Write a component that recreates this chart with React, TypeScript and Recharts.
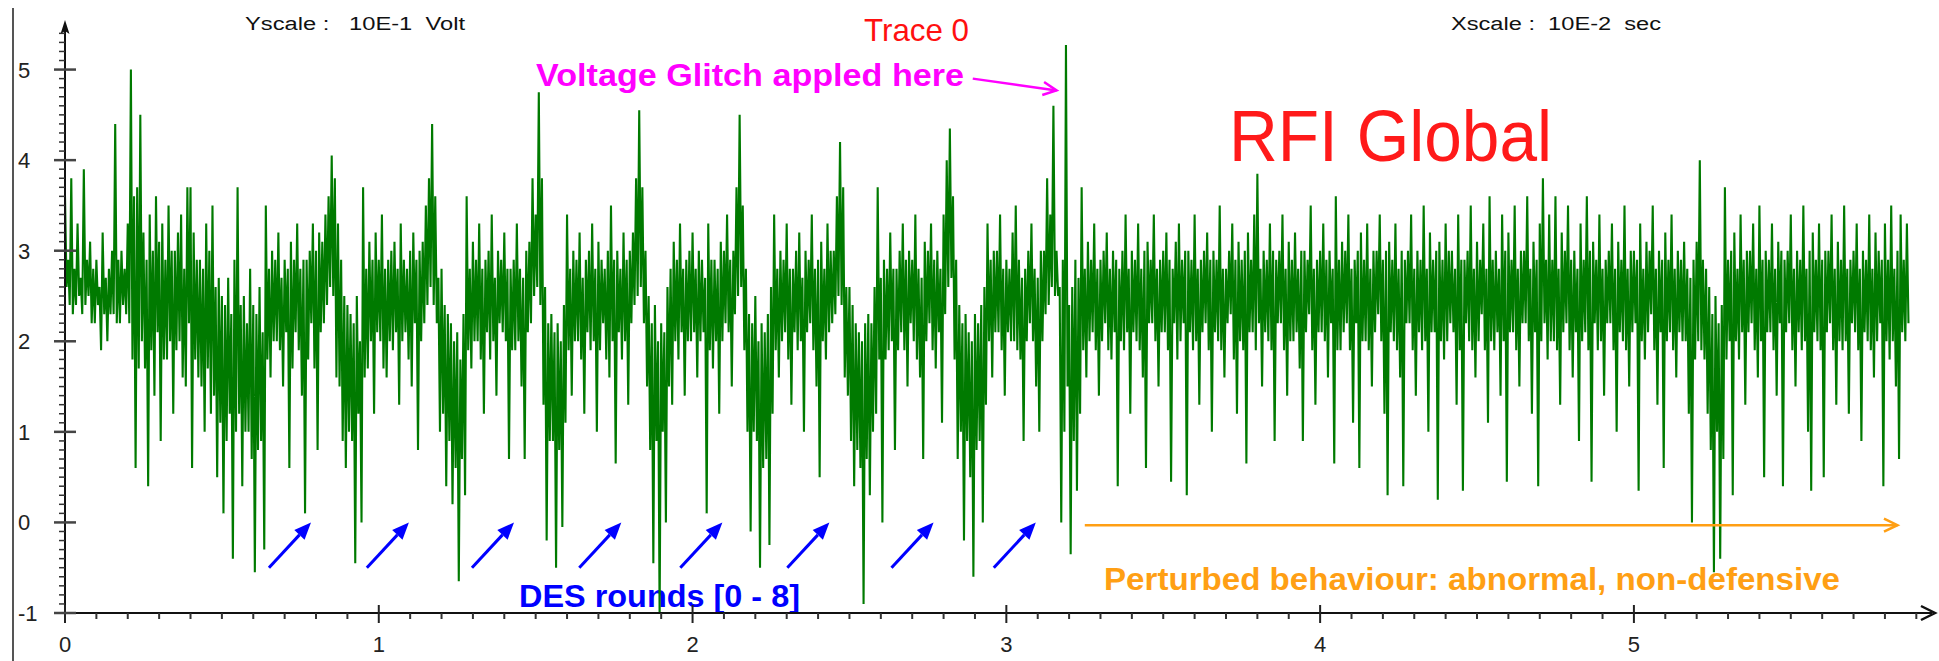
import React from 'react';
import { LineChart, Line, XAxis, YAxis, ReferenceLine } from 'recharts';

const W = 1939;
const H = 661;

// peak-detect trace: for every 0.01 step (Xscale 10E-2 sec) the high and the low
// reading, in 10E-1 Volt
const SAMPLE_STEP = 0.01;
const peakHigh = [
  3.6, 2.9, 3.8, 2.8, 3.3, 2.7, 3.9, 2.9, 3.1, 2.8, 2.9, 2.6, 3.2, 2.7, 2.8, 3.0, 4.4, 2.9, 3.0, 2.8,
  3.3, 5.0, 3.6, 3.7, 4.5, 3.2, 2.9, 3.4, 3.0, 3.6, 3.1, 3.3, 2.9, 3.5, 3.0, 3.0, 3.2, 3.4, 2.8, 3.7,
  3.7, 3.2, 2.9, 2.9, 2.8, 3.3, 3.0, 3.5, 2.6, 2.7, 2.5, 2.4, 2.7, 2.3, 2.9, 3.7, 2.4, 2.5, 2.2, 2.8,
  2.4, 2.3, 2.6, 2.1, 3.5, 2.8, 3.0, 2.9, 3.2, 2.7, 2.9, 2.8, 3.1, 2.9, 3.3, 2.8, 2.9, 2.9, 3.0, 3.3,
  3.0, 3.2, 3.1, 3.4, 3.6, 4.05, 3.8, 3.3, 2.9, 2.5, 2.4, 2.3, 2.2, 2.5, 2.0, 3.7, 2.8, 3.1, 2.9, 3.2,
  2.9, 3.4, 2.8, 2.9, 3.0, 3.1, 2.8, 3.3, 2.9, 2.8, 3.0, 3.2, 2.9, 3.0, 3.1, 3.5, 3.8, 4.4, 3.6, 2.7,
  2.8, 2.4, 2.3, 2.2, 2.0, 2.1, 1.8, 2.3, 3.6, 2.8, 3.1, 2.9, 3.3, 2.8, 2.9, 3.0, 3.4, 2.7, 3.0, 2.9,
  3.2, 2.8, 2.8, 2.9, 3.3, 2.8, 2.7, 3.0, 3.1, 3.8, 3.4, 4.75, 3.8, 2.6, 2.2, 2.3, 2.1, 2.2, 2.0, 2.4,
  3.4, 2.8, 3.0, 2.9, 3.2, 2.7, 2.9, 3.0, 3.3, 2.8, 3.1, 2.9, 2.8, 3.0, 3.5, 2.9, 3.0, 2.8, 3.2, 2.9,
  3.0, 3.2, 3.8, 4.55, 3.7, 3.0, 2.5, 2.2, 2.4, 2.0, 2.2, 2.1, 2.6, 2.8, 3.1, 2.9, 3.3, 2.8, 2.9, 3.0,
  3.2, 2.8, 3.0, 2.9, 2.7, 3.3, 2.9, 2.9, 2.8, 3.1, 3.0, 3.4, 2.9, 3.0, 3.7, 4.5, 3.5, 2.8, 2.3, 2.2,
  2.5, 2.0, 2.2, 2.1, 2.3, 2.6, 3.4, 2.8, 3.0, 2.9, 3.3, 2.8, 2.8, 3.0, 3.2, 2.7, 3.0, 2.9, 3.4, 2.8,
  2.9, 3.1, 2.8, 3.3, 3.0, 3.0, 3.6, 4.2, 3.7, 2.6, 2.6, 2.4, 2.2, 2.1, 2.0, 2.2, 2.3, 2.2, 2.6, 3.7,
  2.7, 2.9, 2.8, 3.2, 2.8, 2.8, 3.0, 3.3, 2.9, 3.0, 2.9, 3.4, 2.8, 2.7, 3.1, 3.0, 3.3, 2.9, 3.0, 2.8,
  3.4, 4.0, 4.35, 3.6, 2.9, 2.4, 2.2, 2.3, 2.1, 2.0, 2.3, 2.2, 2.4, 2.6, 3.3, 2.9, 3.0, 3.0, 3.4, 2.8,
  2.9, 2.8, 3.2, 3.5, 2.9, 2.7, 2.8, 3.0, 3.3, 2.8, 2.7, 3.0, 3.0, 3.8, 3.4, 4.6, 3.0, 2.6, 2.9, 5.27,
  2.4, 2.6, 2.9, 2.7, 3.7, 2.8, 3.1, 2.9, 3.3, 2.8, 2.9, 3.0, 3.2, 2.8, 3.0, 2.9, 2.8, 3.0, 3.4, 2.8,
  3.0, 2.9, 3.3, 2.8, 3.0, 3.1, 2.9, 3.4, 2.8, 2.9, 3.0, 3.2, 2.9, 2.8, 3.1, 3.3, 2.9, 3.0, 3.0, 2.9,
  3.4, 2.8, 2.9, 3.0, 3.2, 2.9, 3.0, 2.9, 3.5, 2.8, 2.8, 3.0, 3.3, 2.9, 3.1, 2.9, 3.0, 3.2, 2.9, 3.4,
  3.85, 2.8, 3.0, 2.9, 3.3, 3.0, 2.9, 3.0, 3.4, 2.8, 3.1, 2.9, 3.2, 2.8, 3.0, 3.0, 2.9, 3.5, 2.8, 2.9,
  3.0, 3.3, 2.9, 3.0, 2.8, 3.6, 2.9, 3.1, 3.0, 3.4, 2.8, 2.9, 3.0, 3.2, 2.9, 3.3, 2.8, 3.0, 3.0, 3.4,
  2.9, 3.0, 3.1, 2.9, 3.3, 2.8, 3.0, 2.9, 3.0, 3.4, 2.8, 3.0, 2.9, 3.5, 2.8, 3.2, 2.9, 3.0, 3.1, 2.9,
  3.3, 3.0, 3.0, 2.8, 3.4, 2.9, 2.9, 3.0, 3.5, 2.8, 3.1, 2.9, 3.3, 2.8, 3.6, 2.9, 3.0, 2.8, 3.4, 3.0,
  3.2, 2.9, 3.5, 2.8, 3.0, 3.0, 3.6, 2.8, 3.1, 2.9, 3.3, 3.8, 2.9, 3.4, 2.9, 3.6, 2.8, 3.2, 3.0, 3.5,
  2.9, 3.0, 2.8, 3.3, 2.9, 3.6, 3.0, 3.1, 2.9, 3.4, 2.8, 2.9, 3.0, 3.3, 2.8, 3.1, 2.9, 3.5, 2.8, 3.0,
  3.0, 2.9, 3.3, 2.8, 3.1, 3.0, 3.5, 2.8, 3.0, 2.9, 3.2, 2.9, 3.4, 2.8, 3.0, 2.9, 3.1, 2.8, 2.7, 2.9,
  3.1, 4.0, 2.9, 2.8, 2.6, 2.3, 2.5, 2.2, 2.4, 3.7, 2.9, 3.0, 3.2, 2.8, 3.4, 2.9, 3.0, 3.0, 3.3, 2.8,
  3.5, 2.9, 3.0, 2.9, 3.3, 2.8, 3.1, 3.0, 2.9, 3.0, 3.4, 2.8, 3.0, 2.9, 3.5, 2.8, 3.0, 3.2, 2.9, 3.3,
  2.9, 3.0, 3.0, 3.4, 2.8, 3.1, 2.9, 3.5, 2.8, 2.9, 3.0, 3.3, 2.8, 3.0, 2.9, 3.4, 2.8, 3.2, 3.0, 2.9,
  3.3, 2.9, 3.5, 2.8, 3.0, 3.4, 2.9, 3.3,
];
const peakLow = [
  2.6, 2.4, 2.3, 2.4, 2.5, 2.3, 2.4, 2.5, 2.2, 2.2, 2.4, 1.9, 2.3, 2.0, 2.3, 2.3, 2.2, 2.2, 2.4, 2.3,
  2.2, 1.8, 0.6, 1.7, 2.0, 1.7, 0.4, 1.9, 1.4, 2.1, 0.9, 1.8, 1.8, 2.0, 1.2, 1.9, 2.0, 1.6, 1.5, 2.2,
  0.6, 1.8, 1.6, 1.5, 1.0, 1.7, 1.2, 1.4, 0.5, 1.1, 0.1, 0.9, 1.2, -0.4, 1.0, 1.2, 0.4, 1.0, 1.0, 0.7,
  -0.55, 0.8, 0.9, -0.3, 1.8, 1.6, 2.0, 2.0, 1.9, 1.5, 2.1, 0.6, 1.7, 2.1, 1.9, 1.4, 0.1, 1.8, 2.2, 1.7,
  0.8, 2.1, 2.2, 2.4, 2.6, 2.5, 1.6, 1.5, 0.9, 0.6, 1.0, 0.9, -0.45, 1.2, 0.0, 1.6, 1.7, 2.0, 1.2, 2.1,
  2.0, 1.7, 1.6, 2.0, 1.9, 2.1, 1.3, 2.0, 2.1, 1.8, 1.5, 2.2, 0.8, 2.0, 2.2, 2.4, 2.6, 2.4, 2.2, 1.0,
  1.2, 0.4, 0.9, 0.2, 0.6, -0.65, 0.7, 0.3, 1.9, 1.7, 2.0, 2.0, 1.8, 1.2, 2.1, 1.8, 2.0, 1.4, 2.2, 2.1,
  2.0, 0.7, 1.9, 1.9, 2.0, 1.5, 0.7, 2.1, 2.2, 2.5, 2.6, 2.4, 1.3, -0.2, 0.9, 0.9, -0.5, 0.8, -0.05, 1.1,
  1.9, 1.4, 2.0, 2.0, 1.8, 1.2, 2.1, 1.9, 2.0, 1.0, 1.9, 2.2, 1.8, 1.6, 2.0, 0.65, 2.1, 1.8, 2.0, 1.3,
  2.2, 2.4, 2.5, 2.6, 2.2, 1.5, 0.8, -0.45, 0.9, -1.05, 1.0, 0.0, 1.5, 1.3, 2.0, 1.8, 2.1, 1.4, 2.0, 2.0,
  2.1, 1.6, 2.0, 2.1, 0.1, 1.9, 1.7, 2.0, 1.2, 2.0, 2.2, 2.1, 1.5, 2.3, 2.5, 2.6, 1.9, 1.0, -0.1, 1.0,
  0.9, -0.5, 0.6, 0.7, -0.25, 1.2, 1.9, 1.6, 2.0, 2.1, 1.8, 1.3, 2.1, 1.9, 2.0, 1.0, 2.1, 2.2, 1.9, 1.5,
  0.5, 2.0, 1.8, 2.1, 2.2, 2.3, 2.5, 2.4, 1.6, 1.4, 0.9, 0.4, 0.8, 0.6, -0.9, 0.7, 0.3, 1.0, 1.2, 1.8,
  0.0, 1.8, 1.9, 2.0, 0.8, 1.9, 2.1, 1.9, 1.5, 2.2, 2.0, 1.8, 1.6, 0.7, 2.0, 2.2, 1.9, 1.7, 2.1, 1.1,
  2.3, 2.6, 2.7, 1.8, 0.7, 1.0, -0.2, 0.9, 0.5, -0.6, 0.8, 0.9, 0.0, 1.3, 2.0, 1.6, 2.1, 2.1, 1.9, 1.4,
  2.1, 2.0, 2.0, 1.9, 1.8, 0.9, 2.0, 2.2, 2.0, 1.5, 1.0, 2.0, 2.3, 2.4, 2.6, 2.5, 2.5, 0.0, 1.0, 1.5,
  -0.35, 0.9, 0.35, 1.2, 1.9, 1.6, 2.0, 2.1, 1.9, 1.4, 2.0, 2.2, 1.9, 1.8, 2.1, 0.4, 2.0, 1.9, 2.1, 1.2,
  2.1, 2.0, 1.9, 1.6, 0.6, 2.2, 2.2, 2.0, 1.5, 2.1, 2.1, 1.9, 0.45, 2.2, 1.8, 2.0, 2.2, 0.3, 2.1, 1.9,
  2.0, 1.3, 2.1, 2.2, 1.9, 1.0, 2.1, 2.0, 1.9, 1.6, 2.2, 2.3, 1.8, 1.2, 2.0, 1.9, 0.65, 2.1, 2.1, 1.9,
  2.2, 1.5, 2.1, 2.0, 1.9, 0.9, 2.2, 2.2, 1.9, 1.4, 2.0, 2.0, 2.1, 1.7, 0.9, 2.1, 2.3, 1.9, 1.3, 2.1,
  2.1, 2.0, 1.6, 2.2, 0.65, 1.9, 1.9, 2.1, 2.2, 1.9, 1.1, 2.2, 0.6, 2.0, 2.0, 1.9, 1.5, 2.1, 2.3, 2.0,
  1.2, 0.3, 2.1, 2.0, 1.9, 1.6, 0.4, 2.2, 2.2, 1.9, 1.4, 2.1, 1.9, 2.0, 1.0, 2.1, 2.1, 0.25, 2.0, 1.8,
  2.0, 2.2, 2.1, 1.3, 1.9, 0.35, 2.2, 2.0, 1.9, 1.6, 2.0, 2.3, 1.9, 1.1, 2.0, 1.9, 2.1, 1.4, 2.0, 0.45,
  2.1, 2.1, 1.9, 1.5, 2.2, 2.2, 2.0, 1.2, 2.1, 0.4, 2.0, 2.2, 1.8, 2.0, 2.0, 1.9, 1.3, 2.1, 2.2, 1.9,
  1.6, 2.1, 0.9, 2.0, 2.1, 1.9, 0.45, 2.2, 1.9, 2.0, 1.4, 2.2, 2.2, 1.9, 1.0, 2.1, 2.0, 1.9, 1.5, 2.1,
  2.2, 0.35, 2.0, 1.8, 2.1, 2.3, 1.9, 1.3, 2.1, 0.6, 2.0, 2.1, 1.9, 1.6, 2.1, 2.0, 2.0, 1.2, 0.0, 1.8,
  2.0, 1.9, 1.8, 1.2, 0.8, -0.55, 1.0, -0.4, 0.7, 1.8, 2.0, 0.3, 2.0, 1.8, 2.1, 1.3, 2.1, 2.2, 1.9, 1.6,
  2.0, 0.5, 2.1, 2.1, 1.9, 1.4, 2.2, 0.4, 2.1, 2.2, 1.9, 1.5, 2.1, 1.9, 2.0, 1.0, 0.35, 2.1, 2.0, 1.9,
  0.5, 2.1, 2.2, 1.9, 1.3, 2.0, 1.9, 2.0, 1.2, 2.2, 2.1, 1.9, 0.9, 2.1, 2.0, 1.9, 1.6, 2.0, 2.2, 0.4,
  2.0, 1.8, 2.0, 1.5, 0.7, 2.1, 2.0, 2.2,
];

// ruler-like axes: minor tick every 0.1, labels on the integers
const xTicks = Array.from({ length: 60 }, (_, i) => i / 10);
const yTicks = Array.from({ length: 65 }, (_, i) => (i - 10) / 10);

// arrow tips for the DES rounds (x position, pointing at 0)
const desArrowHeads = [0.784, 1.096, 1.431, 1.773, 2.095, 2.436, 2.768, 3.094];
const DES_ARROW_DX = 0.134;
const DES_ARROW_DY = 0.5;

const glitchArrow = [{ x: 2.893, y: 4.9 }, { x: 3.16, y: 4.77 }];
const perturbedArrow = [{ x: 3.25, y: -0.03 }, { x: 5.84, y: -0.03 }];

const data = peakHigh.flatMap((hi, i) => [
  { t: Math.round(i * SAMPLE_STEP * 1000) / 1000, v: hi },
  { t: Math.round((i + 0.5) * SAMPLE_STEP * 1000) / 1000, v: peakLow[i] },
]);

const M = { top: 27, right: 7, bottom: 0, left: 0 };
const Y_AXIS_W = 65;
const X_AXIS_H = 48;
const TICK_FONT = "'Liberation Sans', Arial, sans-serif";
const NARROW = "'Liberation Sans Narrow', 'Liberation Sans', Arial, sans-serif";

const isMajor = (v: number) => Math.abs(v - Math.round(v)) < 1e-6;

const XTick = (props: any) => {
  const { x, y, payload } = props;
  const v = payload.value;
  if (isMajor(v)) {
    return (
      <g>
        <line x1={x} x2={x} y1={y - 8} y2={y + 10} stroke="#222" strokeWidth={2} />
        <text x={x} y={y + 39} textAnchor="middle" fontSize={22} fontFamily={TICK_FONT} fill="#222">
          {Math.round(v)}
        </text>
      </g>
    );
  }
  return <line x1={x} x2={x} y1={y} y2={y + 6} stroke="#333" strokeWidth={2} />;
};

const YTick = (props: any) => {
  const { x, y, payload } = props;
  const v = payload.value;
  if (isMajor(v)) {
    return (
      <g>
        <line x1={x - 11} x2={x + 11} y1={y} y2={y} stroke="#444" strokeWidth={2.5} />
        <text x={x - 47} y={y + 8} textAnchor="start" fontSize={22} fontFamily={TICK_FONT} fill="#222">
          {Math.round(v)}
        </text>
      </g>
    );
  }
  return <line x1={x - 6} x2={x} y1={y} y2={y} stroke="#333" strokeWidth={1.5} />;
};

// straight arrow with a filled head
const SolidArrow = (color: string) => (p: any) => {
  const { x1, y1, x2, y2 } = p;
  const a = Math.atan2(y2 - y1, x2 - x1);
  const len = 17;
  const half = 7;
  const bx = x2 - len * Math.cos(a);
  const by = y2 - len * Math.sin(a);
  const px = half * Math.sin(a);
  const py = half * Math.cos(a);
  return (
    <g>
      <line x1={x1} y1={y1} x2={bx} y2={by} stroke={color} strokeWidth={3} />
      <polygon points={`${x2},${y2} ${bx + px},${by - py} ${bx - px},${by + py}`} fill={color} />
    </g>
  );
};

// arrow with an open chevron head
const OpenArrow = (color: string, width: number) => (p: any) => {
  const { x1, y1, x2, y2 } = p;
  const a = Math.atan2(y2 - y1, x2 - x1);
  const len = 15;
  const spread = 0.45;
  const w1x = x2 - len * Math.cos(a - spread);
  const w1y = y2 - len * Math.sin(a - spread);
  const w2x = x2 - len * Math.cos(a + spread);
  const w2y = y2 - len * Math.sin(a + spread);
  return (
    <g>
      <line x1={x1} y1={y1} x2={x2} y2={y2} stroke={color} strokeWidth={width} />
      <polyline points={`${w1x},${w1y} ${x2},${y2} ${w2x},${w2y}`} fill="none" stroke={color} strokeWidth={width} />
    </g>
  );
};

const Overlay = () => (
  <svg width={W} height={H} style={{ position: 'absolute', left: 0, top: 0 }}>
    <line x1={13} x2={13} y1={8} y2={H} stroke="#555" strokeWidth={2} />
    <text x={245} y={30} fontSize={18} fontFamily={TICK_FONT} fill="#111" textLength={220} lengthAdjust="spacingAndGlyphs" style={{ whiteSpace: 'pre' }}>
      {'Yscale :   10E-1  Volt'}
    </text>
    <text x={1451} y={30} fontSize={18} fontFamily={TICK_FONT} fill="#111" textLength={210} lengthAdjust="spacingAndGlyphs" style={{ whiteSpace: 'pre' }}>
      {'Xscale :  10E-2  sec'}
    </text>
    <text x={864} y={41} fontSize={32} fontFamily={NARROW} fill="#ff1010" textLength={105} lengthAdjust="spacingAndGlyphs">
      Trace 0
    </text>
    <text x={536} y={86} fontSize={31} fontWeight="bold" fontFamily={NARROW} fill="#ff00ff" textLength={428} lengthAdjust="spacingAndGlyphs">
      Voltage Glitch appled here
    </text>
    <text x={1229} y={161} fontSize={72} fontFamily={TICK_FONT} fill="#ff1a1a" textLength={323} lengthAdjust="spacingAndGlyphs">
      RFI Global
    </text>
    <text x={519} y={607} fontSize={32} fontWeight="bold" fontFamily={NARROW} fill="#0000ff" textLength={281} lengthAdjust="spacingAndGlyphs">
      DES rounds [0 - 8]
    </text>
    <text x={1104} y={590} fontSize={32} fontWeight="bold" fontFamily={NARROW} fill="#ff9f14" textLength={736} lengthAdjust="spacingAndGlyphs">
      Perturbed behaviour: abnormal, non-defensive
    </text>
    {/* axis arrow heads */}
    <polygon points="65,20 60.5,34 65,31 69.5,34" fill="#111" />
    <polyline points="1921,606 1935,613 1921,620" fill="none" stroke="#111" strokeWidth={2.5} />
  </svg>
);

export default function App() {
  return (
    <div style={{ position: 'absolute', left: 0, top: 0, width: W, height: H, background: '#fff' }}>
      <Overlay />
      <div style={{ position: 'absolute', left: 0, top: 0 }}>
        <LineChart width={W} height={H} data={data} margin={M}>
          <XAxis
            dataKey="t"
            type="number"
            domain={[0, 5.95]}
            ticks={xTicks}
            interval={0}
            tick={<XTick />}
            tickLine={false}
            tickSize={0}
            tickMargin={0}
            height={X_AXIS_H}
            allowDataOverflow
            axisLine={{ stroke: '#111', strokeWidth: 2 }}
          />
          <YAxis
            type="number"
            domain={[-1, 5.47]}
            ticks={yTicks}
            interval={0}
            tick={<YTick />}
            tickLine={false}
            tickSize={0}
            tickMargin={0}
            width={Y_AXIS_W}
            allowDataOverflow
            axisLine={{ stroke: '#111', strokeWidth: 2 }}
          />
          <Line
            dataKey="v"
            type="linear"
            stroke="#007a00"
            strokeWidth={2.1}
            dot={false}
            isAnimationActive={false}
          />
          {desArrowHeads.map((hx) => (
            <ReferenceLine
              key={hx}
              segment={[{ x: hx - DES_ARROW_DX, y: -DES_ARROW_DY }, { x: hx, y: 0 }]}
              shape={SolidArrow('#0000ff')}
            />
          ))}
          <ReferenceLine segment={glitchArrow} shape={OpenArrow('#ff00ff', 2.5)} />
          <ReferenceLine segment={perturbedArrow} shape={OpenArrow('#ff9f14', 2.5)} />
        </LineChart>
      </div>
    </div>
  );
}
